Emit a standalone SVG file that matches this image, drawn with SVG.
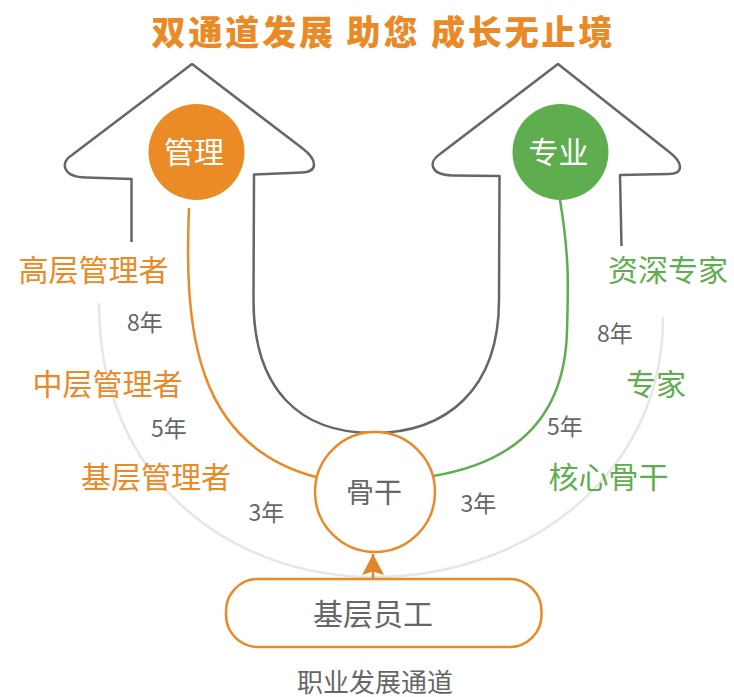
<svg xmlns="http://www.w3.org/2000/svg" width="734" height="697" viewBox="0 0 734 697">
<style>
.t{font-family:"Noto Sans CJK SC","Noto Sans",sans-serif;text-anchor:middle}
.or{fill:#EA8A26}
.gr{fill:#5EAD4F}
.gy{fill:#666666}
.wh{fill:#ffffff}
.yr{font-size:23px}
.lv{font-size:30px}
</style>
<defs>
<marker id="ah" viewBox="0 0 21 22" refX="21" refY="11" markerWidth="21" markerHeight="22" markerUnits="userSpaceOnUse" orient="auto">
<path d="M21,11 L0,0 L3.5,11 L0,22 Z" fill="#E0862A"/>
</marker>
</defs>
<rect width="734" height="697" fill="#ffffff"/>
<g id="title"><text class="t or" x="382" y="45" font-size="34" font-weight="900" textLength="461" lengthAdjust="spacing">双通道发展 助您 成长无止境</text></g>
<g id="arrows">
<path d="M131.5,242 L131.5,179 L86,177.5 C62,177 60,162 72,155 L192,64 L302,148 C318,160 318,172 302,172.5 L254,174.5 L253.5,300 C253.5,390 300,433 373,433 C446,433 499,390 499,300 L499.5,176 L452,175.5 C430,175 428,162 440,154 L558,64 L668,151 C684,163 684,174 668,174 L620,175 L621.5,246" fill="none" stroke="#666666" stroke-width="2.5" stroke-linejoin="round"/>
</g>
<g id="connectors" fill="none" stroke-width="2.5">
<path d="M99,303 C99,480 230,577 375,577 C520,577 663,480 663,317" stroke="#E6E6E6"/>
<path d="M189,208 C184,330 195,445 316,477" stroke="#EA8A26"/>
<path d="M560,200 C570,260 568,290 567,330 C565,430 500,465 433,476" stroke="#5EAD4F"/>
<path d="M373,580 L373,554" stroke="#E0862A" marker-end="url(#ah)"/>
</g>
<g id="node-management">
<circle cx="196.5" cy="152" r="48" fill="#EB8B25"/>
<text class="t wh lv" x="194" y="163">管理</text>
</g>
<g id="node-professional">
<circle cx="560.5" cy="152" r="48" fill="#5EAE4F"/>
<text class="t wh lv" x="558.5" y="162.5">专业</text>
</g>
<g id="node-backbone">
<circle cx="375" cy="492" r="60" fill="#ffffff" stroke="#EA8A26" stroke-width="2.5"/>
<text class="t gy" x="374" y="503" font-size="28">骨干</text>
</g>
<g id="node-staff">
<rect x="226" y="579" width="315.5" height="68" rx="32" fill="#ffffff" stroke="#EA8A26" stroke-width="2.5"/>
<text class="t gy lv" x="373" y="625">基层员工</text>
</g>
<g id="mgmt-levels">
<text class="t or lv" x="93.5" y="281">高层管理者</text>
<text class="t or lv" x="107.5" y="395">中层管理者</text>
<text class="t or lv" x="156" y="488">基层管理者</text>
</g>
<g id="pro-levels">
<text class="t gr lv" x="668" y="281">资深专家</text>
<text class="t gr lv" x="656" y="395">专家</text>
<text class="t gr lv" x="608.5" y="488">核心骨干</text>
</g>
<g id="years">
<text class="t gy yr" x="145" y="330.5">8年</text>
<text class="t gy yr" x="169" y="436.5">5年</text>
<text class="t gy yr" x="266.5" y="520.5">3年</text>
<text class="t gy yr" x="615" y="341.5">8年</text>
<text class="t gy yr" x="565" y="435">5年</text>
<text class="t gy yr" x="478.5" y="511.5">3年</text>
</g>
<g id="caption"><text class="t gy" x="375" y="691.5" font-size="26">职业发展通道</text></g>
</svg>
